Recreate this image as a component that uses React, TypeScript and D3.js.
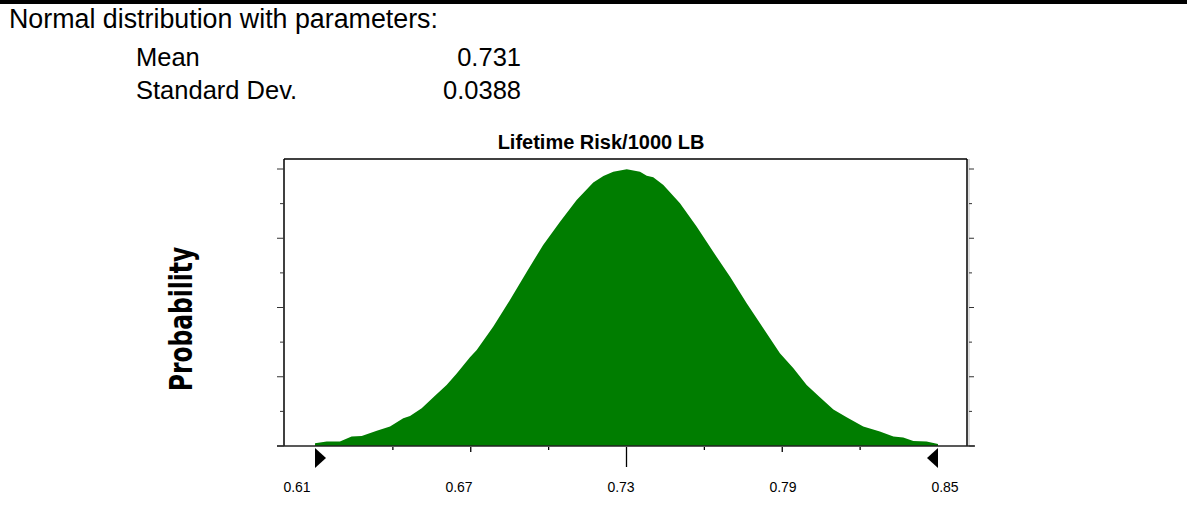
import React from "react";
import * as d3 from "d3";

const headerLine = "Normal distribution with parameters:";
const paramNames = ["Mean", "Standard Dev."];
const paramValues = ["0.731", "0.0388"];
const chartTitle = "Lifetime Risk/1000 LB";
const yLabel = "Probability";

const xTickLabels = ["0.61", "0.67", "0.73", "0.79", "0.85"];
const xTickLabelValues = [0.61, 0.67, 0.73, 0.79, 0.85];
const xTickValues = [0.64, 0.67, 0.7, 0.73, 0.76, 0.79, 0.82];
const xDomain = [0.61, 0.85];
const yTickValues = [0, 0.125, 0.25, 0.375, 0.5, 0.625, 0.75, 0.875, 1.0];

const curveX = [0.6100, 0.6145, 0.6196, 0.6241, 0.6280, 0.6338, 0.6389, 0.6440, 0.6466, 0.6511, 0.6556, 0.6607, 0.6646, 0.6697, 0.6723, 0.6787, 0.6851, 0.6916, 0.6979, 0.7044, 0.7108, 0.7172, 0.7211, 0.7249, 0.7301, 0.7352, 0.7378, 0.7403, 0.7442, 0.7506, 0.7570, 0.7634, 0.7699, 0.7763, 0.7827, 0.7891, 0.7943, 0.7994, 0.8045, 0.8097, 0.8148, 0.8212, 0.8276, 0.8328, 0.8366, 0.8405, 0.8456, 0.8500];
const curveP = [0.010, 0.016, 0.016, 0.034, 0.036, 0.055, 0.070, 0.100, 0.108, 0.136, 0.176, 0.220, 0.262, 0.320, 0.347, 0.431, 0.527, 0.629, 0.726, 0.810, 0.888, 0.951, 0.975, 0.990, 0.999, 0.990, 0.976, 0.970, 0.942, 0.876, 0.792, 0.701, 0.611, 0.515, 0.425, 0.335, 0.281, 0.220, 0.176, 0.132, 0.104, 0.070, 0.052, 0.034, 0.031, 0.018, 0.016, 0.007];

export default function App() {
  const W = 1187, H = 529;
  const plotLeft = 284, plotRight = 967, plotTop = 159, plotBottom = 446;
  const x = d3.scaleLinear().domain(xDomain).range([315, 938]);
  const xLab = d3.scaleLinear().domain(xDomain).range([297, 945]);
  const y = d3.scaleLinear().domain([0, 1]).range([plotBottom, 169]);

  const pts = curveX.map((v, i) => [v, curveP[i]] as [number, number]);
  const area = d3
    .area<[number, number]>()
    .x((d) => x(d[0]))
    .y0(y(0))
    .y1((d) => y(d[1]))
    .curve(d3.curveLinear);

  const font = "'Liberation Sans', Arial, sans-serif";
  const green = "#007d00";

  return (
    <svg
      width={W}
      height={H}
      style={{ position: "absolute", left: 0, top: 0, background: "#fff" }}
      fontFamily={font}
    >
      <rect x={0} y={0} width={W} height={4} fill="#000" />
      <text x={9} y={28} fontSize={26.8} fill="#000">{headerLine}</text>
      {paramNames.map((n, i) => (
        <g key={n}>
          <text x={136} y={66 + i * 33} fontSize={25.5} fill="#000">{n}</text>
          <text x={521} y={66 + i * 33} fontSize={25.5} fill="#000" textAnchor="end">{paramValues[i]}</text>
        </g>
      ))}

      <text x={601} y={149} fontSize={20} fontWeight="bold" textAnchor="middle" fill="#000">
        {chartTitle}
      </text>

      <text
        transform={`translate(192,319) rotate(-90) scale(1,1.25)`}
        fontSize={26}
        fontWeight="bold"
        textAnchor="middle"
        fill="#000"
        fontFamily="'DejaVu Sans Condensed', 'DejaVu Sans', sans-serif"
      >
        {yLabel}
      </text>

      {/* area */}
      <path d={area(pts) || ""} fill={green} stroke="none" />

      {/* frame */}
      <line x1={plotLeft} x2={plotRight} y1={plotTop} y2={plotTop} stroke="#000" strokeWidth={1.5} />
      <line x1={plotLeft} x2={plotLeft} y1={plotTop} y2={plotBottom} stroke="#000" strokeWidth={1.5} />
      <line x1={plotRight} x2={plotRight} y1={plotTop} y2={plotBottom} stroke="#000" strokeWidth={1.5} />
      <line x1={plotRight + 2} x2={plotRight + 2} y1={plotTop} y2={plotBottom} stroke="#bbb" strokeWidth={1} />
      <line x1={277} x2={975} y1={plotBottom} y2={plotBottom} stroke="#222" strokeWidth={1.5} />

      {/* y ticks */}
      {yTickValues.map((v, i) => {
        const major = i % 2 === 0;
        return (
          <g key={"yt" + i}>
            <line x1={plotLeft - (major ? 7 : 4)} x2={plotLeft} y1={y(v)} y2={y(v)} stroke="#333" strokeWidth={1} />
            <line x1={plotRight + 2} x2={plotRight + (major ? 7 : 5)} y1={y(v)} y2={y(v)} stroke="#333" strokeWidth={1} />
          </g>
        );
      })}

      {/* x ticks */}
      {xTickValues.map((v, i) => {
        const len = i === 3 ? 20 : i % 2 === 1 ? 5 : 3;
        return (
          <line key={"xt" + i} x1={x(v)} x2={x(v)} y1={plotBottom + 1} y2={plotBottom + 1 + len} stroke="#000" strokeWidth={1.3} />
        );
      })}

      {/* range markers */}
      <path
        d={`M${x(xDomain[0])},448 L${x(xDomain[0])},468 L${x(xDomain[0]) + 11},458 Z`}
        fill="#000"
      />
      <path
        d={`M${x(xDomain[1])},448 L${x(xDomain[1])},468 L${x(xDomain[1]) - 11},458 Z`}
        fill="#000"
      />

      {xTickLabels.map((t, i) => (
        <text key={t} x={xLab(xTickLabelValues[i])} y={492} fontSize={14} textAnchor="middle" fill="#000">
          {t}
        </text>
      ))}
    </svg>
  );
}
